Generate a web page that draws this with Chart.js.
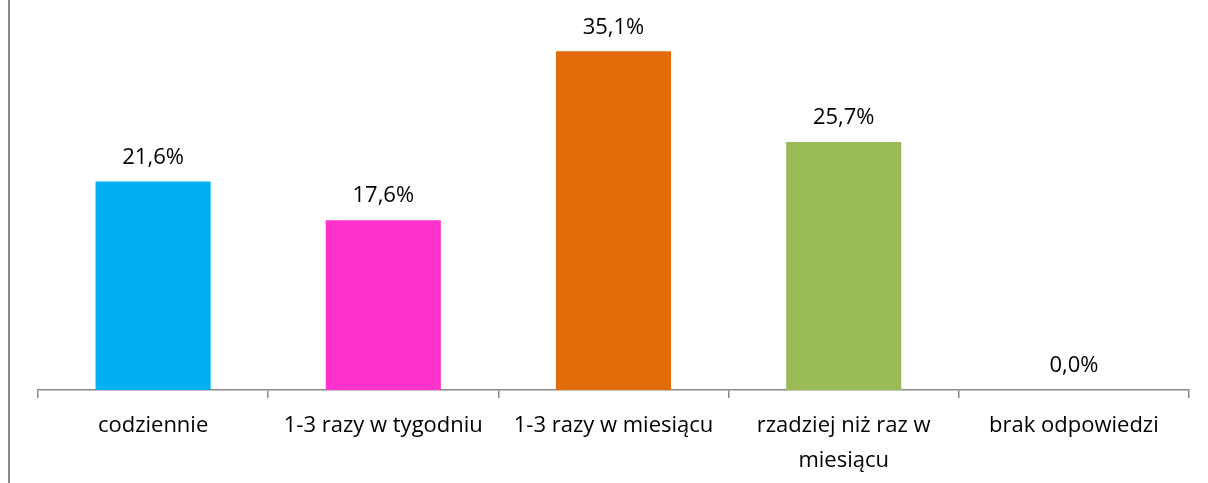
<!DOCTYPE html>
<html>
<head>
<meta charset="utf-8">
<script src="https://cdn.jsdelivr.net/npm/chart.js@4/dist/chart.umd.min.js"></script>
<style>
  body { margin: 0; background: #fff; }
  #wrap { position: relative; width: 1208px; height: 483px; }
  #frame { position: absolute; left: 8px; top: 0; width: 2px; height: 483px; background: #898989; }
</style>
</head>
<body>
<div id="wrap">
  <div id="frame"></div>
  <canvas id="myChart" width="1208" height="483"></canvas>
</div>
<script>
// dane z wykresu
const categories = ["codziennie", "1-3 razy w tygodniu", "1-3 razy w miesiącu", ["rzadziej niż raz w", "miesiącu"], "brak odpowiedzi"];
const values = [21.6, 17.6, 35.1, 25.7, 0.0];
const barColors = ["#00B0F0", "#FF33CC", "#E36C0A", "#9BBB59", "#7F7F7F"];

const fontFamily = "'Open Sans', 'Noto Sans', sans-serif";

// etykiety nad słupkami
const valueLabels = {
    id: 'valueLabels',
    afterDatasetsDraw(chart) {
        const ctx = chart.ctx;
        const meta = chart.getDatasetMeta(0);
        ctx.save();
        ctx.font = "22px " + fontFamily;
        ctx.fillStyle = "#000";
        ctx.textAlign = "center";
        ctx.textBaseline = "middle";
        meta.data.forEach((bar, i) => {
            const txt = values[i].toFixed(1).replace('.', ',') + '%';
            ctx.fillText(txt, bar.x, bar.y - 24);
        });
        ctx.restore();
    }
};

const ctx = document.getElementById('myChart').getContext('2d');
new Chart(ctx, {
    type: 'bar',
    data: {
        labels: categories,
        datasets: [{
            data: values,
            backgroundColor: barColors,
            borderWidth: 0,
            categoryPercentage: 0.5,
            barPercentage: 1.0
        }]
    },
    options: {
        responsive: false,
        animation: false,
        layout: { padding: { left: 38, right: 19, top: 4, bottom: 0 } },
        plugins: {
            legend: { display: false },
            tooltip: { enabled: false }
        },
        scales: {
            x: {
                grid: {
                    offset: true,
                    drawOnChartArea: false,
                    drawTicks: true,
                    tickLength: 8,
                    color: "#898989",
                    lineWidth: 1.5
                },
                border: { color: "#898989", width: 1.5 },
                ticks: {
                    color: "#000",
                    font: { family: fontFamily, size: 22, lineHeight: 1.6 },
                    padding: 10,
                    maxRotation: 0,
                    autoSkip: false
                },
                afterFit(scale) { scale.height = 93; }
            },
            y: {
                display: false,
                min: 0,
                max: 40
            }
        }
    },
    plugins: [valueLabels]
});
</script>
</body>
</html>
